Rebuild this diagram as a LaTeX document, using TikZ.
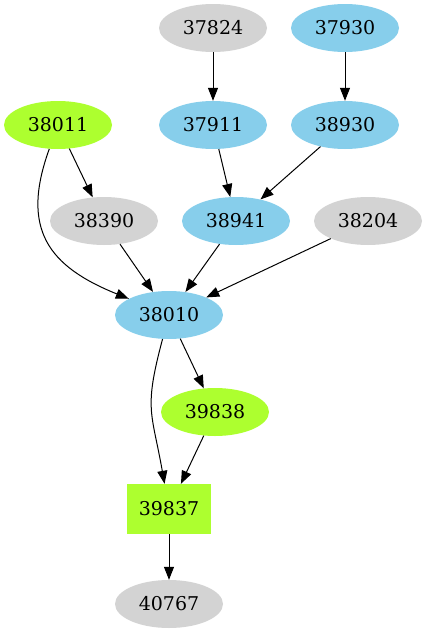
\documentclass[tikz,border=0pt]{standalone}
\usepackage{fontspec}
\setmainfont{DejaVu Serif}
\usetikzlibrary{shapes.geometric,arrows.meta}
\definecolor{nodegray}{RGB}{211,211,211}
\definecolor{nodeblue}{RGB}{135,206,235}
\definecolor{nodegreen}{RGB}{173,255,47}
\tikzset{
  blob/.style={ellipse, fill=#1, draw=none, minimum width=108pt, minimum height=48pt, inner sep=0pt},
  boxnode/.style={rectangle, fill=#1, draw=none, minimum width=84pt, minimum height=50pt, inner sep=0pt},
  edge/.style={-{Triangle[length=13pt,width=10pt]}, line width=1pt}
}
\begin{document}
\begin{tikzpicture}[x=1pt,y=-1pt,font=\fontsize{19}{23}\selectfont]
\useasboundingbox (0,0) rectangle (427,635);
%% Ellipse nodes
\foreach \x/\y/\lab/\col in {213/28/37824/nodegray, 345/28/37930/nodeblue,
  58/125/38011/nodegreen, 213/125/37911/nodeblue, 345/125/38930/nodeblue,
  104/221/38390/nodegray, 236/221/38941/nodeblue, 368/221/38204/nodegray,
  169/315/38010/nodeblue, 215/412/39838/nodegreen, 169/604/40767/nodegray}{
  \node[blob=\col] (n\lab) at (\x,\y) {\lab};
}
%% Box node
\node[boxnode=nodegreen] (n39837) at (169,509) {39837};
%% Straight edges
\foreach \a/\b in {37824/37911, 37930/38930, 38011/38390, 37911/38941,
  38930/38941, 38390/38010, 38941/38010, 38204/38010, 38010/39838,
  39838/39837, 39837/40767}{
  \draw[edge] (n\a) -- (n\b);
}
%% Curved edges
\draw[edge] (n38011) to[out=-110, in=158, looseness=1.3] (n38010);
\draw[edge] (n38010) to[out=-105, in=100, looseness=1.3] (n39837);
\end{tikzpicture}
\end{document}
